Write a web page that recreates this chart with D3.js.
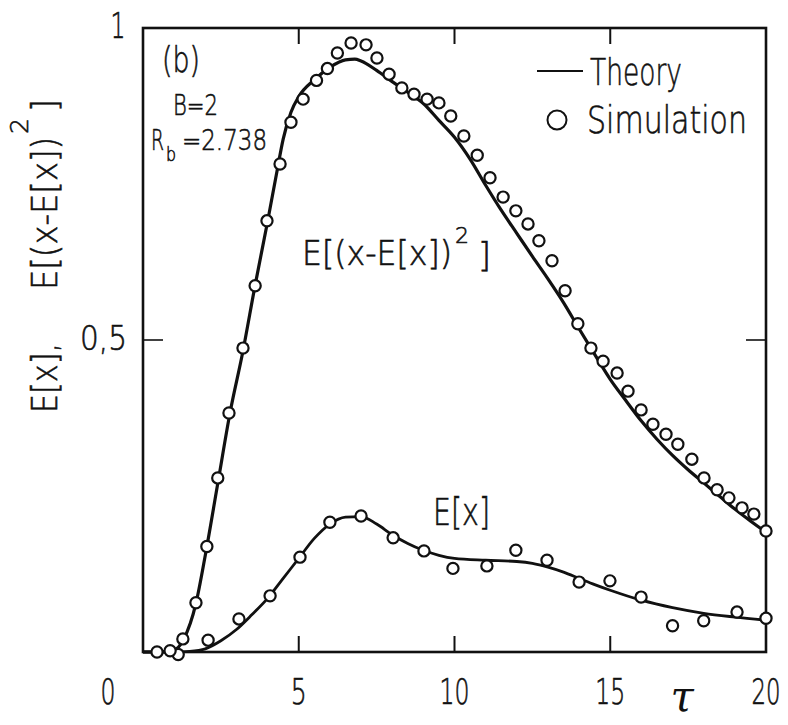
<!DOCTYPE html>
<html>
<head>
<meta charset="utf-8">
<script src="https://cdn.jsdelivr.net/npm/d3@7"></script>
<style>
  html, body { margin: 0; padding: 0; background: #fff; }
  svg { display: block; }
  text { font-family: "DejaVu Sans", sans-serif; font-weight: 200; fill: #111; stroke: #111; stroke-width: 0.6; }
</style>
</head>
<body>
<svg id="chart" width="788" height="725"></svg>
<script>
// Simulation points, variance E[(x-E[x])^2]
const varSimT = [0.45, 1.13, 1.28, 1.70, 2.05, 2.40, 2.76, 3.21, 3.60, 3.98, 4.40, 4.75, 5.14, 5.57, 5.92, 6.24,
  6.68, 7.16, 7.51, 7.90, 8.31, 8.70, 9.12, 9.50, 9.88, 10.30, 10.73, 11.14, 11.56, 11.97, 12.36, 12.71,
  13.13, 13.55, 13.96, 14.38, 14.77, 15.22, 15.57, 15.99, 16.37, 16.79, 17.17, 17.62, 18.01, 18.43,
  18.81, 19.23, 19.61, 20.0];
const varSimV = [0.000, -0.004, 0.021, 0.079, 0.169, 0.279, 0.383, 0.487, 0.587, 0.691, 0.782, 0.849, 0.886, 0.916, 0.935, 0.960,
  0.976, 0.973, 0.952, 0.926, 0.904, 0.894, 0.886, 0.880, 0.859, 0.827, 0.796, 0.760, 0.729, 0.707, 0.686, 0.659,
  0.627, 0.579, 0.526, 0.487, 0.466, 0.447, 0.418, 0.388, 0.365, 0.349, 0.333, 0.309, 0.279, 0.260,
  0.247, 0.231, 0.221, 0.194];

// Simulation points, mean E[x]
const meanSimT = [0.87, 2.09, 3.08, 4.08, 5.04, 6.0, 7.0, 8.03, 9.02, 9.95, 11.04, 11.97, 12.97, 14.0, 14.99,
  15.99, 17.0, 18.0, 19.07, 20.0];
const meanSimV = [0.002, 0.019, 0.053, 0.090, 0.152, 0.208, 0.218, 0.183, 0.162, 0.134, 0.138, 0.163, 0.147, 0.112, 0.114,
  0.088, 0.042, 0.050, 0.064, 0.054];

// Theory curves
const varThT = [0, 0.5, 1.0, 1.3, 1.7, 2.0, 2.4, 2.8, 3.2, 3.6, 4.0, 4.3, 4.5, 4.75, 5.0, 5.5, 6.0, 6.5, 6.8, 7.0,
  7.5, 8.0, 8.5, 9.0, 9.5, 10.0, 10.5, 11.0, 11.5, 12.0, 12.5, 13.0, 13.5, 14.0, 14.5, 15.0, 15.5, 16.0,
  16.5, 17.0, 17.5, 18.0, 18.5, 19.0, 19.5, 20.0];
const varThV = [0, 0, 0.003, 0.02, 0.078, 0.155, 0.27, 0.385, 0.48, 0.588, 0.69, 0.77, 0.822, 0.865, 0.89, 0.917, 0.937, 0.949, 0.950, 0.947,
  0.932, 0.914, 0.897, 0.879, 0.852, 0.825, 0.79, 0.748, 0.708, 0.671, 0.634, 0.598, 0.560, 0.518, 0.477, 0.437, 0.403, 0.370,
  0.341, 0.315, 0.292, 0.271, 0.250, 0.229, 0.210, 0.192];

const meanThT = [0, 1.0, 1.5, 2.0, 2.5, 3.0, 3.5, 4.0, 4.5, 5.0, 5.5, 6.0, 6.5, 7.0, 7.5, 8.0, 8.5, 9.0, 9.5, 10.0,
  11.0, 12.0, 12.5, 13.0, 13.5, 14.0, 14.5, 15.0, 16.0, 17.0, 18.0, 19.0, 20.0];
const meanThV = [0, 0, 0.001, 0.005, 0.018, 0.036, 0.060, 0.086, 0.118, 0.150, 0.182, 0.205, 0.216, 0.217, 0.205, 0.188, 0.174, 0.163, 0.155, 0.150,
  0.147, 0.145, 0.142, 0.136, 0.128, 0.118, 0.108, 0.099, 0.083, 0.071, 0.062, 0.056, 0.051];

const xTicks = [5, 10, 15];
const xTickLabels = ["0", "5", "10", "15", "20"];
const xLabelPos = [0, 5, 10, 15, 20];

const svg = d3.select("#chart");
const x = d3.scaleLinear().domain([0, 20]).range([143, 766]);
const y = d3.scaleLinear().domain([0, 1]).range([652, 28]);

// condensed typewriter-style lettering: fit each string into its width
function label(g, str, px, py, size, len, anchor) {
  return g.append("text")
    .attr("x", px).attr("y", py)
    .attr("font-size", size)
    .attr("text-anchor", anchor || "start")
    .attr("textLength", len)
    .attr("lengthAdjust", "spacingAndGlyphs")
    .text(str);
}
// one text element made of placed pieces (subscripts, superscripts)
function pieces(g, parts) {
  const t = g.append("text");
  parts.forEach(p => {
    t.append("tspan")
      .attr("x", p[1]).attr("y", p[2])
      .attr("font-size", p[3])
      .attr("textLength", p[4])
      .attr("lengthAdjust", "spacingAndGlyphs")
      .text(p[0]);
  });
  return t;
}

// frame
svg.append("rect")
  .attr("x", x(0)).attr("y", y(1))
  .attr("width", x(20) - x(0)).attr("height", y(0) - y(1))
  .attr("fill", "none").attr("stroke", "#111").attr("stroke-width", 2.6);

// inward ticks on top and bottom
const tickLen = 16;
svg.selectAll("line.tb").data(xTicks).join("line")
  .attr("x1", d => x(d)).attr("x2", d => x(d))
  .attr("y1", y(0)).attr("y2", y(0) - tickLen)
  .attr("stroke", "#111").attr("stroke-width", 2);
svg.selectAll("line.tt").data(xTicks).join("line")
  .attr("x1", d => x(d)).attr("x2", d => x(d))
  .attr("y1", y(1)).attr("y2", y(1) + tickLen)
  .attr("stroke", "#111").attr("stroke-width", 2);
// 0.5 ticks on both sides
svg.append("line").attr("x1", x(0)).attr("x2", x(0) + 20)
  .attr("y1", y(0.5)).attr("y2", y(0.5)).attr("stroke", "#111").attr("stroke-width", 1.6);
svg.append("line").attr("x1", x(20)).attr("x2", x(20) - 20)
  .attr("y1", y(0.5)).attr("y2", y(0.5)).attr("stroke", "#111").attr("stroke-width", 1.6);

// x tick labels
const xlabW = { "0": 15, "5": 16, "10": 30, "15": 30, "20": 29 };
xTickLabels.forEach((s, i) => {
  const px = i === 0 ? 108 : x(xLabelPos[i]);
  label(svg, s, px, 704, 35, xlabW[s], "middle");
});
// y tick labels
label(svg, "1", 118, 38, 35, 15, "middle");
label(svg, "0,5", 80, 350, 34, 47);

// axis titles
svg.append("text").attr("x", 682).attr("y", 711)
  .attr("font-size", 42).attr("text-anchor", "middle")
  .style("font-family", "'DejaVu Serif', serif").style("font-style", "italic")
  .style("font-weight", "normal").style("stroke-width", 0)
  .text("τ");

const yt = svg.append("g").attr("transform", "translate(57,0) rotate(-90)");
pieces(yt, [
  ["E[x],", -413, 0, 35, 70],
  ["E[(x-E[x])", -290, 0, 35, 153],
  ["2", -134, -29, 24, 16],
  ["]", -112, 0, 35, 13]
]);

// curves
const line = d3.line().x(d => x(d[0])).y(d => y(d[1])).curve(d3.curveMonotoneX);
const varTh = varThT.map((t, i) => [t, varThV[i]]);
const meanTh = meanThT.map((t, i) => [t, meanThV[i]]);
svg.append("path").datum(varTh).attr("d", line)
  .attr("fill", "none").attr("stroke", "#111").attr("stroke-width", 3.2);
svg.append("path").datum(meanTh).attr("d", line)
  .attr("fill", "none").attr("stroke", "#111").attr("stroke-width", 2.8);

// simulation markers
const sims = varSimT.map((t, i) => [t, varSimV[i]])
  .concat(meanSimT.map((t, i) => [t, meanSimV[i]]));
svg.selectAll("circle.sim").data(sims).join("circle")
  .attr("cx", d => x(d[0])).attr("cy", d => y(d[1])).attr("r", 5.6)
  .attr("fill", "#fff").attr("stroke", "#111").attr("stroke-width", 2.2);

// annotations
label(svg, "(b)", 162, 72, 35, 38);
label(svg, "B=2", 173, 115, 28, 45);
pieces(svg, [
  ["R", 151, 150, 28, 13],
  ["b", 166, 161, 19, 10],
  ["=2.738", 182, 150, 28, 85]
]);
pieces(svg, [
  ["E[(x-E[x])", 302, 265, 33, 150],
  ["2", 455, 243, 22, 14],
  ["]", 478, 267, 33, 13]
]);
label(svg, "E[x]", 433, 525, 37, 57);

// legend
svg.append("line").attr("x1", 537).attr("x2", 583).attr("y1", 71).attr("y2", 71)
  .attr("stroke", "#111").attr("stroke-width", 2);
label(svg, "Theory", 590, 85, 38, 92);
svg.append("circle").attr("cx", 557).attr("cy", 120).attr("r", 9.5)
  .attr("fill", "none").attr("stroke", "#111").attr("stroke-width", 2);
label(svg, "Simulation", 587, 133, 37, 160);
</script>
</body>
</html>
